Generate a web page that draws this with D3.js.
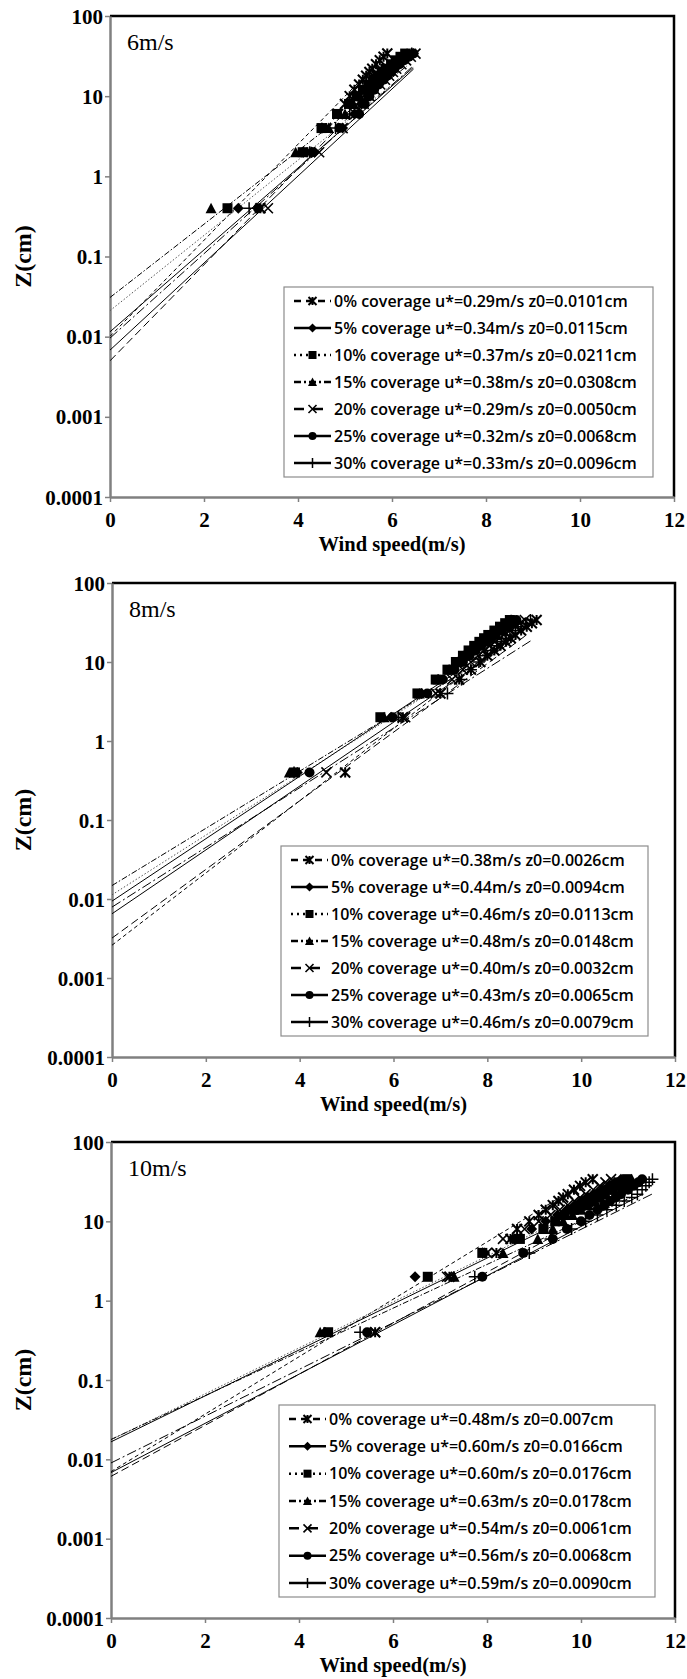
<!DOCTYPE html>
<html>
<head>
<meta charset="utf-8">
<script src="https://cdn.jsdelivr.net/npm/d3@7"></script>
<style>
  body { margin: 0; background: #fff; }
  svg { display: block; }
</style>
</head>
<body>
<div id="chart"></div>
<script>
// Wind profiles over surfaces with different coverage, three free-stream speeds

// Measurement heights (cm)
const heights = [0.4, 2, 4, 6, 8, 10, 12, 14, 16, 18, 20, 22, 25, 28, 31, 34];

const coverage = ['0%', '5%', '10%', '15%', '20%', '25%', '30%'];
const markerTypes = ['asterisk', 'diamond', 'square', 'triangle', 'cross', 'circle', 'plus'];

const panelNames = ['6m/s', '8m/s', '10m/s'];

const xTicks = [0, 2, 4, 6, 8, 10, 12];
const yTicks = [0.0001, 0.001, 0.01, 0.1, 1, 10, 100];
const yTickLabels = ['0.0001', '0.001', '0.01', '0.1', '1', '10', '100'];

// 6 m/s - wind speed (m/s) at each height, one row per coverage
const speeds6 = [
    [3.20, 4.20, 4.60, 4.85, 5.00, 5.10, 5.20, 5.30, 5.38, 5.45, 5.52, 5.58, 5.66, 5.74, 5.82, 5.90],
    [2.73, 4.35, 4.95, 5.20, 5.35, 5.48, 5.60, 5.70, 5.80, 5.88, 5.96, 6.04, 6.15, 6.25, 6.35, 6.45],
    [2.50, 4.10, 4.50, 4.83, 5.10, 5.25, 5.38, 5.50, 5.60, 5.70, 5.78, 5.86, 5.98, 6.08, 6.18, 6.28],
    [2.15, 3.95, 4.65, 5.00, 5.18, 5.32, 5.45, 5.56, 5.66, 5.75, 5.83, 5.91, 6.02, 6.12, 6.22, 6.32],
    [3.36, 4.45, 4.95, 5.22, 5.40, 5.52, 5.64, 5.75, 5.85, 5.94, 6.02, 6.09, 6.20, 6.30, 6.40, 6.50],
    [3.15, 4.30, 4.88, 5.30, 5.42, 5.52, 5.62, 5.72, 5.82, 5.90, 5.98, 6.05, 6.16, 6.26, 6.36, 6.46],
    [2.96, 4.25, 4.80, 5.10, 5.28, 5.42, 5.55, 5.66, 5.76, 5.85, 5.93, 6.00, 6.12, 6.22, 6.32, 6.42]
];
const ustar6 = ['0.29', '0.34', '0.37', '0.38', '0.29', '0.32', '0.33'];
const z0_6 = ['0.0101', '0.0115', '0.0211', '0.0308', '0.0050', '0.0068', '0.0096'];

// 8 m/s
const speeds8 = [
    [4.97, 6.20, 7.00, 7.40, 7.65, 7.85, 8.00, 8.15, 8.28, 8.40, 8.50, 8.60, 8.72, 8.84, 8.95, 9.05],
    [3.95, 5.95, 6.60, 6.95, 7.20, 7.38, 7.52, 7.65, 7.78, 7.88, 7.98, 8.08, 8.20, 8.32, 8.42, 8.52],
    [3.90, 5.72, 6.51, 6.90, 7.15, 7.33, 7.48, 7.60, 7.72, 7.83, 7.93, 8.02, 8.15, 8.27, 8.38, 8.48],
    [3.78, 5.80, 6.55, 6.95, 7.18, 7.36, 7.50, 7.63, 7.75, 7.86, 7.96, 8.05, 8.18, 8.30, 8.40, 8.50],
    [4.57, 6.25, 6.90, 7.25, 7.48, 7.65, 7.80, 7.93, 8.05, 8.16, 8.26, 8.35, 8.48, 8.60, 8.70, 8.80],
    [4.21, 5.98, 6.72, 7.05, 7.30, 7.48, 7.62, 7.75, 7.87, 7.98, 8.08, 8.17, 8.30, 8.42, 8.52, 8.62],
    [3.88, 6.10, 7.15, 7.45, 7.65, 7.82, 7.95, 8.08, 8.20, 8.30, 8.40, 8.48, 8.60, 8.72, 8.82, 8.92]
];
const ustar8 = ['0.38', '0.44', '0.46', '0.48', '0.40', '0.43', '0.46'];
const z0_8 = ['0.0026', '0.0094', '0.0113', '0.0148', '0.0032', '0.0065', '0.0079'];

// 10 m/s
const speeds10 = [
    [5.62, 7.20, 8.20, 8.50, 8.64, 8.90, 9.10, 9.25, 9.40, 9.52, 9.62, 9.72, 9.85, 9.98, 10.10, 10.25],
    [4.55, 6.47, 7.95, 8.55, 8.95, 9.25, 9.50, 9.70, 9.88, 10.02, 10.15, 10.28, 10.45, 10.60, 10.72, 10.85],
    [4.62, 6.74, 7.90, 8.70, 9.20, 9.45, 9.65, 9.85, 10.02, 10.16, 10.30, 10.42, 10.58, 10.72, 10.85, 10.98],
    [4.45, 7.30, 8.34, 9.08, 9.40, 9.62, 9.82, 10.00, 10.16, 10.30, 10.42, 10.54, 10.70, 10.84, 10.96, 11.08],
    [5.62, 7.15, 8.00, 8.34, 8.80, 9.10, 9.35, 9.55, 9.72, 9.86, 9.98, 10.10, 10.26, 10.40, 10.52, 10.64],
    [5.45, 7.90, 8.77, 9.40, 9.70, 10.00, 10.18, 10.35, 10.50, 10.62, 10.74, 10.85, 11.00, 11.12, 11.22, 11.30],
    [5.30, 7.74, 8.90, 9.35, 9.80, 10.10, 10.35, 10.55, 10.75, 10.92, 11.08, 11.20, 11.30, 11.38, 11.45, 11.52]
];
const ustar10 = ['0.48', '0.60', '0.60', '0.63', '0.54', '0.56', '0.59'];
const z0_10 = ['0.007', '0.0166', '0.0176', '0.0178', '0.0061', '0.0068', '0.0090'];

const KARMAN = 0.4;

// trendline dash styles and legend sample dash styles, per coverage
const trendDash = ['4,3', null, '1.5,2', '6,2,1.5,2', '8,4', null, '10,3,2,3'];
const trendColor = ['#000', '#000', '#555', '#000', '#000', '#000', '#000'];
const legendDash = ['7,5', null, '2,4', '7,3,2,3', '10,9', null, null];

const SERIF = '"Liberation Serif", "Times New Roman", serif';
const SANS = '"Open Sans", sans-serif';

// layout (pixels)
const W = 687, H = 1679;
const layout = [
    { left: 110, right: 674, top: 16, bottom: 497, legend: { x: 284, y: 287, w: 369, h: 190 } },
    { left: 112, right: 675, top: 583, bottom: 1057, legend: { x: 281, y: 846, w: 367, h: 190 } },
    { left: 111, right: 675, top: 1142, bottom: 1618, legend: { x: 279, y: 1405, w: 376, h: 192 } }
];

const panelData = [
    { speeds: speeds6, ustar: ustar6, z0: z0_6 },
    { speeds: speeds8, ustar: ustar8, z0: z0_8 },
    { speeds: speeds10, ustar: ustar10, z0: z0_10 }
];

const svg = d3.select('#chart').append('svg')
    .attr('width', W)
    .attr('height', H);

// draw a marker of the given type centred at (0,0)
function drawMarker(g, type, s) {
    const h = s / 2;
    if (type === 'diamond') {
        g.append('path').attr('d', `M0,${-h - 0.5}L${h + 0.5},0L0,${h + 0.5}L${-h - 0.5},0Z`).attr('fill', '#000');
    } else if (type === 'square') {
        g.append('rect').attr('x', -h).attr('y', -h).attr('width', s).attr('height', s).attr('fill', '#000');
    } else if (type === 'triangle') {
        g.append('path').attr('d', `M0,${-h - 0.5}L${h + 0.5},${h}L${-h - 0.5},${h}Z`).attr('fill', '#000');
    } else if (type === 'circle') {
        g.append('circle').attr('r', h).attr('fill', '#000');
    } else if (type === 'cross') {
        g.append('path').attr('d', `M${-h},${-h}L${h},${h}M${-h},${h}L${h},${-h}`)
            .attr('stroke', '#000').attr('stroke-width', 1.6).attr('fill', 'none');
    } else if (type === 'plus') {
        g.append('path').attr('d', `M${-h - 1},0L${h + 1},0M0,${-h - 1}L0,${h + 1}`)
            .attr('stroke', '#000').attr('stroke-width', 1.5).attr('fill', 'none');
    } else if (type === 'asterisk') {
        g.append('path').attr('d', `M${-h},${-h}L${h},${h}M${-h},${h}L${h},${-h}M0,${-h}L0,${h}`)
            .attr('stroke', '#000').attr('stroke-width', 2).attr('fill', 'none');
    }
}

function drawPanel(p) {
    const L = layout[p];
    const data = panelData[p];

    const x = d3.scaleLinear().domain([0, 12]).range([L.left, L.right]);
    const y = d3.scaleLog().domain([0.0001, 100]).range([L.bottom, L.top]);

    const g = svg.append('g');

    // clip region for the plot area
    const clipId = 'clip' + p;
    g.append('clipPath').attr('id', clipId)
        .append('rect')
        .attr('x', L.left).attr('y', L.top)
        .attr('width', L.right - L.left).attr('height', L.bottom - L.top);

    // top and right frame (black)
    g.append('path')
        .attr('d', `M${L.left},${L.top}L${L.right},${L.top}L${L.right},${L.bottom}`)
        .attr('fill', 'none').attr('stroke', '#000').attr('stroke-width', 2.5);

    // axes
    const xAxis = d3.axisBottom(x).tickValues(xTicks).tickSize(5).tickSizeOuter(0).tickFormat(d3.format('d'));
    const yAxis = d3.axisLeft(y).tickValues(yTicks).tickSize(5).tickSizeOuter(0)
        .tickFormat((d, i) => yTickLabels[i]);

    const gx = g.append('g').attr('transform', `translate(0,${L.bottom})`).call(xAxis);
    const gy = g.append('g').attr('transform', `translate(${L.left},0)`).call(yAxis);

    [gx, gy].forEach(a => {
        a.attr('font-family', SERIF).attr('font-size', 21).attr('font-weight', 'bold');
        a.select('.domain').attr('stroke', '#808080').attr('stroke-width', 2.5);
        a.selectAll('.tick line').attr('stroke', '#808080').attr('stroke-width', 1.5);
        a.selectAll('.tick text').attr('fill', '#000');
    });
    gx.selectAll('.tick text').attr('dy', null).attr('y', 30);
    gy.selectAll('.tick text').attr('x', -7).attr('dy', '0.34em');

    // axis titles
    g.append('text')
        .attr('font-family', SERIF).attr('font-size', 20.5).attr('font-weight', 'bold')
        .attr('text-anchor', 'middle')
        .attr('x', (L.left + L.right) / 2)
        .attr('y', L.bottom + 54)
        .text('Wind speed(m/s)');

    g.append('text')
        .attr('font-family', SERIF).attr('font-size', 24).attr('font-weight', 'bold')
        .attr('text-anchor', 'middle')
        .attr('dy', '0.35em')
        .attr('transform', `translate(23,${(L.top + L.bottom) / 2}) rotate(-90)`)
        .text('Z(cm)');

    // panel title
    g.append('text')
        .attr('font-family', SERIF).attr('font-size', 24)
        .attr('x', L.left + 17)
        .attr('y', L.top + 34)
        .text(panelNames[p]);

    const plot = g.append('g').attr('clip-path', `url(#${clipId})`);

    // log-law trendlines: z = z0 * exp(k u / u*), from u = 0 to the series maximum
    coverage.forEach((c, i) => {
        const us = +data.ustar[i];
        const z0 = +data.z0[i];
        const uMax = d3.max(data.speeds[i]);
        const pts = [0, uMax].map(u => [x(u), y(z0 * Math.exp(KARMAN * u / us))]);
        plot.append('path')
            .attr('d', d3.line()(pts))
            .attr('fill', 'none')
            .attr('stroke', trendColor[i])
            .attr('stroke-width', 1)
            .attr('stroke-dasharray', trendDash[i]);
    });

    // data markers
    coverage.forEach((c, i) => {
        data.speeds[i].forEach((u, j) => {
            const m = plot.append('g').attr('transform', `translate(${x(u)},${y(heights[j])})`);
            drawMarker(m, markerTypes[i], 10);
        });
    });

    // legend
    const lg = g.append('g');
    lg.append('rect')
        .attr('x', L.legend.x).attr('y', L.legend.y)
        .attr('width', L.legend.w).attr('height', L.legend.h)
        .attr('fill', '#fff').attr('stroke', '#8c8c8c').attr('stroke-width', 1.2);

    const rowH = (L.legend.h - 28) / 6;
    coverage.forEach((c, i) => {
        const ry = L.legend.y + 14 + i * rowH;
        const x0 = L.legend.x + 10, x1 = L.legend.x + 47;
        lg.append('line')
            .attr('x1', x0).attr('x2', x1).attr('y1', ry).attr('y2', ry)
            .attr('stroke', '#000').attr('stroke-width', 2.5)
            .attr('stroke-dasharray', legendDash[i]);
        const m = lg.append('g').attr('transform', `translate(${(x0 + x1) / 2},${ry})`);
        drawMarker(m, markerTypes[i], 8);
        lg.append('text')
            .attr('font-family', SANS).attr('font-weight', 600).attr('font-size', 16)
            .attr('x', L.legend.x + 50)
            .attr('y', ry)
            .attr('dy', '0.36em')
            .text(`${c} coverage u*=${data.ustar[i]}m/s z0=${data.z0[i]}cm`);
    });
}

[0, 1, 2].forEach(drawPanel);
</script>
</body>
</html>
